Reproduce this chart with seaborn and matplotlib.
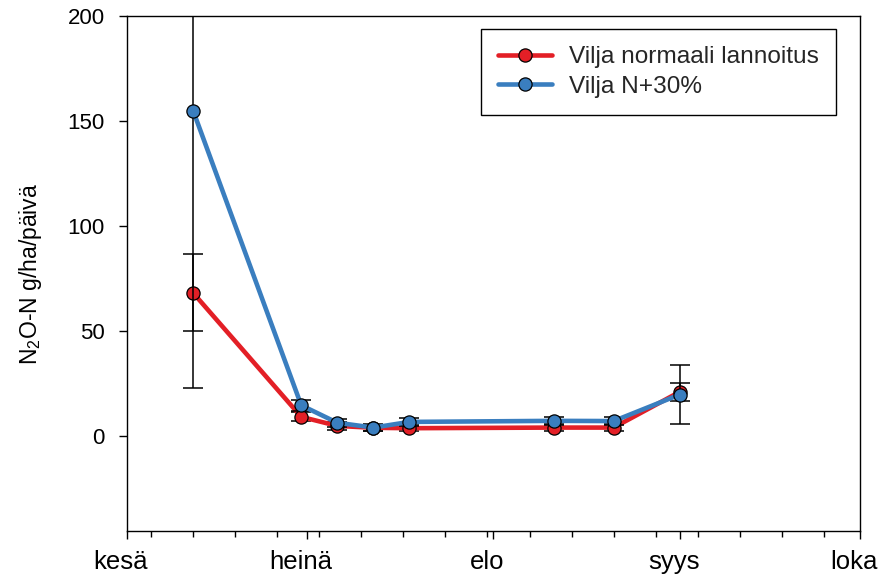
import numpy as np
import pandas as pd
import matplotlib
matplotlib.use("Agg")
import matplotlib.pyplot as plt
import matplotlib.dates as mdates
import matplotlib.transforms as mtrans
import seaborn as sns

# ---- data ----
dates = ["2011-06-12", "2011-06-30", "2011-07-06", "2011-07-12",
         "2011-07-18", "2011-08-11", "2011-08-21", "2011-09-01"]
normal = [68.3, 9.3, 5.0, 4.1, 3.9, 4.2, 4.2, 21.2]
normal_err = [18.3, 2.2, 1.8, 1.5, 1.5, 1.5, 1.5, 4.2]
n30 = [155.0, 14.8, 6.5, 4.2, 6.9, 7.4, 7.3, 19.9]
n30_err = [132.0, 2.5, 2.0, 1.8, 1.8, 2.0, 1.8, 14.0]
series_names = ["Vilja normaali lannoitus", "Vilja N+30%"]
month_starts = ["2011-06-01", "2011-07-01", "2011-08-01", "2011-09-01", "2011-10-01"]
month_labels = ["kesä", "heinä", "elo", "syys", "loka"]
y_ticks = [0, 50, 100, 150, 200]
colors = ["#e31f26", "#3a7ebf"]

sns.set_style("ticks")
plt.rcParams["font.family"] = ["Liberation Sans", "DejaVu Sans"]
plt.rcParams["mathtext.fontset"] = "custom"
plt.rcParams["mathtext.rm"] = "Liberation Sans"
plt.rcParams["mathtext.it"] = "Liberation Sans:italic"
plt.rcParams["mathtext.bf"] = "Liberation Sans:bold"

x = pd.to_datetime(dates)
df = pd.concat([
    pd.DataFrame({"date": x, "value": normal, "err": normal_err, "series": series_names[0]}),
    pd.DataFrame({"date": x, "value": n30, "err": n30_err, "series": series_names[1]}),
], ignore_index=True)

fig = plt.figure(figsize=(8.83, 5.78), dpi=100)
ax = fig.add_axes([127 / 883, 1 - 531 / 578, 733 / 883, 515 / 578])

for i, (name, color) in enumerate(zip(series_names, colors)):
    sub = df[df["series"] == name]
    ax.errorbar(sub["date"], sub["value"], yerr=sub["err"], fmt="none",
                ecolor="black", elinewidth=1.1, capsize=7, capthick=1.1,
                zorder=2 + 2 * i)
    sns.lineplot(data=sub, x="date", y="value", color=color, lw=3.3,
                 marker="o", markersize=9.5, markeredgecolor="black",
                 markeredgewidth=0.9, label=name, ax=ax, zorder=3 + 2 * i,
                 errorbar=None)

ax.set_xlim(pd.Timestamp(month_starts[0]), pd.Timestamp(month_starts[-1]))
ax.set_ylim(-45, 200)
ax.set_xticks(pd.to_datetime(month_starts))
ax.set_xticklabels(month_labels)
ax.xaxis.set_minor_locator(mdates.WeekdayLocator(byweekday=mdates.SU))
ax.set_yticks(y_ticks)

ax.tick_params(axis="both", which="major", direction="out", length=6, width=1,
               color="black", labelcolor="black")
ax.tick_params(axis="y", which="major", pad=10, labelsize=16)
ax.tick_params(axis="x", which="major", pad=8, labelsize=18.5)
ax.tick_params(axis="x", which="minor", direction="out", length=4, width=1, color="black")
ax.tick_params(top=False, right=False)

offset = mtrans.ScaledTranslation(-6 / 100, 0, fig.dpi_scale_trans)
for lab in ax.get_xticklabels():
    lab.set_transform(lab.get_transform() + offset)

for sp in ax.spines.values():
    sp.set_color("black")
    sp.set_linewidth(1.0)

ax.set_xlabel("")
ax.set_ylabel(r"N$_2$O-N g/ha/päivä", fontsize=16.5, color="black")
ax.yaxis.set_label_coords(-0.113, 0.5)

leg = ax.legend(loc="upper left", bbox_to_anchor=(0.483, 0.975), frameon=True,
                fancybox=False, edgecolor="black", fontsize=17.6, borderpad=0.7,
                labelspacing=0.3, handlelength=2.2, handletextpad=0.7,
                borderaxespad=0, framealpha=1)
leg.get_frame().set_linewidth(1.0)

fig.savefig("out.png", dpi=100)
